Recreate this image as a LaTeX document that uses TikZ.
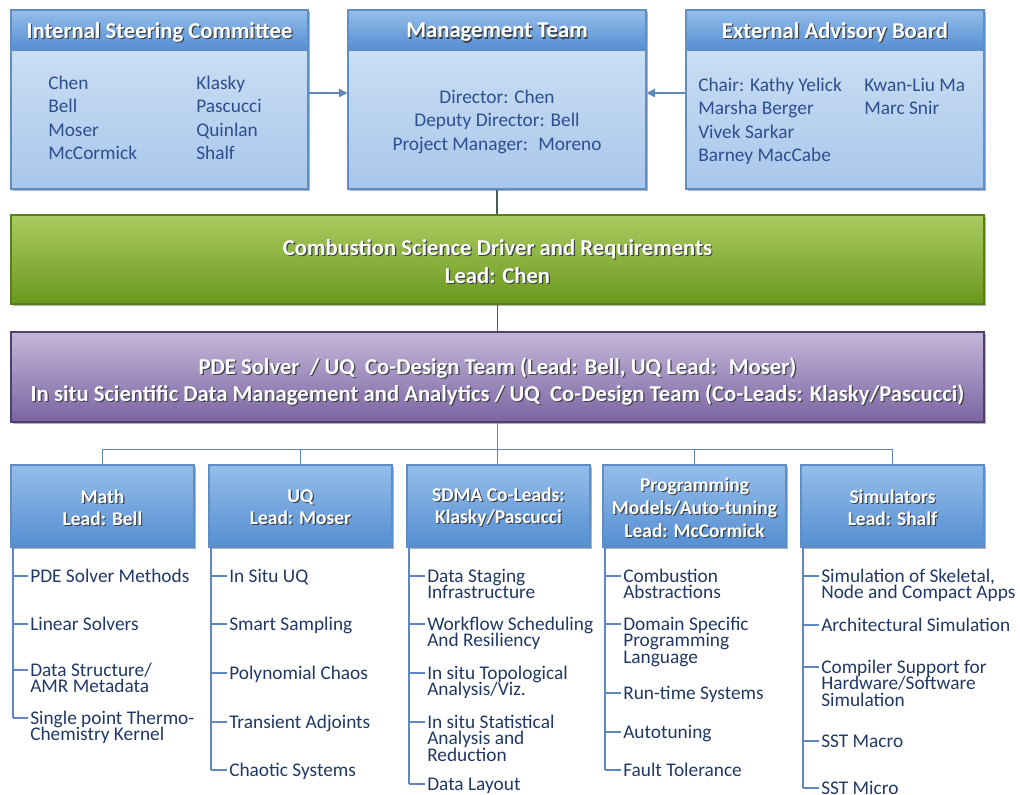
\documentclass[tikz,border=0pt]{standalone}
\usepackage{fontspec}
\setmainfont{Carlito}
\usetikzlibrary{arrows.meta,shadows,fit}

% one unit of the drawing grid
\newdimen\pxu \pxu=0.75pt

\definecolor{hdtop}{HTML}{95BEEA}
\definecolor{hdbot}{HTML}{558ED2}
\definecolor{bodytop}{HTML}{D4E4F6}
\definecolor{bodybot}{HTML}{A8C7EB}
\definecolor{boxline}{HTML}{5F8DC6}
\definecolor{nametext}{HTML}{2D4E8F}
\definecolor{itemtext}{HTML}{203864}
\definecolor{grtop}{HTML}{AACB60}
\definecolor{grbot}{HTML}{6A981E}
\definecolor{grline}{HTML}{587F1E}
\definecolor{putop}{HTML}{C3B7D9}
\definecolor{pubot}{HTML}{7B64A1}
\definecolor{puline}{HTML}{4E4070}
\definecolor{treeline}{HTML}{5F87BD}
\definecolor{darkline}{HTML}{4B5B5E}
\definecolor{shadowc}{HTML}{3A3F48}

% white heading text with a soft dark offset copy behind it
\newcommand\stx[1]{\leavevmode\rlap{\hspace{0.9pt}\raisebox{-0.9pt}{\textcolor{shadowc}{#1}}}#1}
% fixed first-line height so tops line up
\newcommand\fl{\rule{0pt}{11pt}}

\tikzset{
  boxshadow/.style={drop shadow={shadow xshift=1.2pt,shadow yshift=-1.5pt,opacity=0.3,fill=black}},
  bodybox/.style={draw=boxline, line width=0.8pt, top color=bodytop, bottom color=bodybot, inner sep=0pt, boxshadow},
  hdbox/.style={draw=boxline, line width=0.8pt, top color=hdtop, bottom color=hdbot, inner sep=0pt},
  greenbox/.style={draw=grline, line width=0.8pt, top color=grtop, bottom color=grbot, inner sep=0pt, boxshadow},
  purplebox/.style={draw=puline, line width=0.8pt, top color=putop, bottom color=pubot, inner sep=0pt, boxshadow},
  headtext/.style={inner sep=0pt, text=white, align=center},
  bighead/.style={headtext, font=\fontsize{17}{20}\selectfont\bfseries},
  smallhead/.style={headtext, font=\fontsize{14.6}{16.5}\selectfont\bfseries},
  names/.style={inner sep=0pt, text=nametext, font=\fontsize{14.5}{17.5}\selectfont},
  item/.style={anchor=north west, inner xsep=1.5pt, inner ysep=0pt, align=left, text=itemtext,
               font={\fontsize{14.5}{12.4}\selectfont\lineskiplimit=-\maxdimen}},
  tree/.style={draw=treeline, line width=1pt},
  arrowline/.style={draw=treeline, line width=1pt, -{Triangle[length=6.5pt,width=6.5pt]}},
  linkdark/.style={draw=darkline, line width=1.1pt},
  busline/.style={draw=treeline, line width=1.2pt},
}

\begin{document}
\begin{tikzpicture}[x=0.75pt,y=-0.75pt]
\useasboundingbox (0,0) rectangle (1020,795);

% ---- top row: committees and management ----
\node[bodybox, fit={(11,10)(308,189)}] (isc) {};
\node[hdbox, fit={(11,10)(308,50)}] (isch) {};
\node[bighead] (isct) at ([yshift=-3\pxu]isch.center) {\stx{Internal Steering Committee}};
\node[names, anchor=north west, align=left] (iscl) at (48,74.5) {\fl Chen\\Bell\\Moser\\McCormick};
\node[names, anchor=north west, align=left] (iscr) at (196,74.5) {\fl Klasky\\Pascucci\\Quinlan\\Shalf};

\node[bodybox, fit={(348,10)(646,189)}] (mt) {};
\node[hdbox, fit={(348,10)(646,50)}] (mth) {};
\node[bighead] (mtt) at ([yshift=-3\pxu]mth.center) {\stx{Management Team}};
\node[names, anchor=north, align=center] (mtl) at (497,88.5)
  {\fl Director: Chen\\Deputy Director: Bell\\Project Manager:~ Moreno};

\node[bodybox, fit={(686,10)(984,189)}] (eab) {};
\node[hdbox, fit={(686,10)(984,50)}] (eabh) {};
\node[bighead] (eabt) at ([yshift=-3\pxu]eabh.center) {\stx{External Advisory Board}};
\node[names, anchor=north west, align=left] (eabl) at (698,76.5)
  {\fl Chair: Kathy Yelick\\Marsha Berger\\Vivek Sarkar\\Barney MacCabe};
\node[names, anchor=north west, align=left] (eabr) at (864,76.5) {\fl Kwan-Liu Ma\\Marc Snir};

\draw[arrowline] ([yshift=6.5\pxu]isc.east) -- ([yshift=6.5\pxu]mt.west);
\draw[arrowline] ([yshift=6.5\pxu]eab.west) -- ([yshift=6.5\pxu]mt.east);

% ---- driver and co-design bands ----
\node[greenbox, fit={(11,215)(984,304)}] (csd) {};
\node[headtext, font=\fontsize{17}{21}\selectfont\bfseries] (csdt) at ([yshift=-3\pxu]csd.center)
  {\stx{Combustion Science Driver and Requirements}\\\stx{Lead: Chen}};
\node[purplebox, fit={(11,332)(984,422)}] (pde) {};
\node[headtext, font=\fontsize{17}{20.25}\selectfont\bfseries] (pdet) at ([yshift=-5\pxu]pde.center)
  {\stx{PDE Solver~ / UQ~ Co-Design Team (Lead: Bell, UQ Lead:~ Moser)}\\
   \stx{In situ Scientific Data Management and Analytics / UQ~ Co-Design Team (Co-Leads: Klasky/Pascucci)}};

\draw[linkdark] (mt.south) -- (mt.south |- csd.north);
\draw[linkdark] (csd.south) -- (csd.south |- pde.north);

% ---- team boxes ----
\node[hdbox, boxshadow, fit={(11,465)(194,547)}] (math) {};
\node[smallhead] (matht) at ([yshift=-2\pxu]math.center) {\stx{Math}\\\stx{Lead: Bell}};
\node[hdbox, boxshadow, fit={(209,465)(392,547)}] (uq) {};
\node[smallhead] (uqt) at ([yshift=-2\pxu]uq.center) {\stx{UQ}\\\stx{Lead: Moser}};
\node[hdbox, boxshadow, fit={(407,465)(590,547)}] (sdma) {};
\node[smallhead] (sdmat) at ([yshift=-2\pxu]sdma.center) {\stx{SDMA Co-Leads:}\\\stx{Klasky/Pascucci}};
\node[hdbox, boxshadow, fit={(603,465)(786,547)}] (prog) {};
\node[smallhead, font=\fontsize{14.6}{17.2}\selectfont\bfseries] (progt) at ([yshift=-2\pxu]prog.center)
  {\stx{Programming}\\\stx{Models/Auto-tuning}\\\stx{Lead: McCormick}};
\node[hdbox, boxshadow, fit={(801,465)(984,547)}] (sim) {};
\node[smallhead] (simt) at ([yshift=-2\pxu]sim.center) {\stx{Simulators}\\\stx{Lead: Shalf}};

\draw[busline] (math.north) -- ++(0,-15) -| (sim.north);
\draw[busline] (uq.north) -- ++(0,-15);
\draw[busline] (prog.north) -- ++(0,-15);
\draw[busline] (pde.south) -- (pde.south |- sdma.north);

% ---- work items under each team ----
\foreach \n/\y/\t in {m1/576/{PDE Solver Methods}, m2/624/{Linear Solvers},
    m3/670/{Data Structure/\\AMR Metadata}, m4/718/{Single point Thermo-\\Chemistry Kernel}} {
  \coordinate (\n-t) at (13,\y);
  \node[item] (\n) at (28,\y-8.5) {\fl\t};
  \draw[tree] (\n-t) -- (\n-t -| \n.west);
}
\draw[tree] (m1-t |- math.south) -- (m4-t);

\foreach \n/\y/\t in {u1/576/{In Situ UQ}, u2/624/{Smart Sampling}, u3/673/{Polynomial Chaos},
    u4/722/{Transient Adjoints}, u5/770/{Chaotic Systems}} {
  \coordinate (\n-t) at (211,\y);
  \node[item] (\n) at (227,\y-8.5) {\fl\t};
  \draw[tree] (\n-t) -- (\n-t -| \n.west);
}
\draw[tree] (u1-t |- uq.south) -- (u5-t);

\foreach \n/\y/\t in {s1/576/{Data Staging\\Infrastructure}, s2/624/{Workflow Scheduling\\And Resiliency},
    s3/673/{In situ Topological\\Analysis/Viz.}, s4/722/{In situ Statistical\\Analysis and\\Reduction},
    s5/784/{Data Layout}} {
  \coordinate (\n-t) at (409,\y);
  \node[item] (\n) at (425,\y-8.5) {\fl\t};
  \draw[tree] (\n-t) -- (\n-t -| \n.west);
}
\draw[tree] (s1-t |- sdma.south) -- (s5-t);

\foreach \n/\y/\t in {p1/576/{Combustion\\Abstractions}, p2/624/{Domain Specific\\Programming\\Language},
    p3/693/{Run-time Systems}, p4/732/{Autotuning}, p5/770/{Fault Tolerance}} {
  \coordinate (\n-t) at (605,\y);
  \node[item] (\n) at (621,\y-8.5) {\fl\t};
  \draw[tree] (\n-t) -- (\n-t -| \n.west);
}
\draw[tree] (p1-t |- prog.south) -- (p5-t);

\foreach \n/\y/\t in {r1/576/{Simulation of Skeletal,\\Node and Compact Apps}, r2/625/{Architectural Simulation},
    r3/667/{Compiler Support for\\Hardware/Software\\Simulation}, r4/741/{SST Macro}, r5/788/{SST Micro}} {
  \coordinate (\n-t) at (803,\y);
  \node[item] (\n) at (819,\y-8.5) {\fl\t};
  \draw[tree] (\n-t) -- (\n-t -| \n.west);
}
\draw[tree] (r1-t |- sim.south) -- (r5-t);

\end{tikzpicture}
\end{document}
